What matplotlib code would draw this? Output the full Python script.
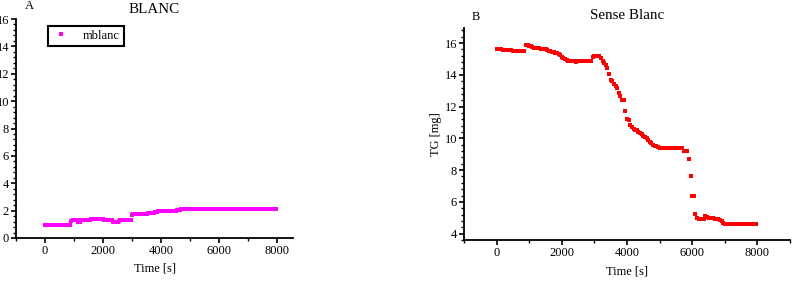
import numpy as np
import matplotlib.pyplot as plt
from matplotlib.ticker import MultipleLocator, AutoMinorLocator

plt.rcParams["font.family"] = ["Liberation Serif", "DejaVu Serif"]
plt.rcParams["font.size"] = 9

# -----------------------------
# Data (one sample every 50 s)
# -----------------------------
TIME_S = np.arange(0, 8000, 50)

MBLANC = [
    0.95, 0.95, 0.95, 0.95, 0.95, 0.95, 0.95, 0.95, 0.95, 0.95,
    0.95, 0.95, 0.95, 0.95, 0.95, 0.95, 0.95, 0.95, 1.25, 1.30,
    1.30, 1.30, 1.30, 1.20, 1.20, 1.28, 1.30, 1.30, 1.30, 1.30,
    1.30, 1.32, 1.38, 1.38, 1.40, 1.40, 1.40, 1.40, 1.40, 1.40,
    1.38, 1.30, 1.30, 1.30, 1.30, 1.30, 1.28, 1.20, 1.18, 1.18,
    1.20, 1.25, 1.28, 1.30, 1.30, 1.30, 1.30, 1.30, 1.30, 1.35,
    1.70, 1.72, 1.72, 1.72, 1.72, 1.72, 1.72, 1.72, 1.72, 1.75,
    1.78, 1.82, 1.85, 1.85, 1.85, 1.85, 1.88, 1.92, 1.95, 1.95,
    1.95, 1.95, 1.95, 1.95, 1.95, 1.95, 1.95, 1.95, 1.95, 1.95,
    2.00, 2.05, 2.07, 2.07, 2.12, 2.15, 2.15, 2.15, 2.15, 2.15,
    2.15, 2.15, 2.15, 2.15, 2.15, 2.15, 2.15, 2.15, 2.15, 2.15,
    2.15, 2.15, 2.15, 2.15, 2.15, 2.15, 2.15, 2.15, 2.15, 2.15,
    2.15, 2.15, 2.15, 2.15, 2.15, 2.15, 2.15, 2.15, 2.15, 2.15,
    2.15, 2.15, 2.15, 2.15, 2.15, 2.15, 2.15, 2.15, 2.15, 2.15,
    2.15, 2.15, 2.15, 2.15, 2.15, 2.15, 2.15, 2.15, 2.15, 2.15,
    2.15, 2.15, 2.15, 2.15, 2.15, 2.15, 2.15, 2.15, 2.15, 2.15,
]

SENSE_BLANC = [
    15.65, 15.65, 15.65, 15.60, 15.58, 15.58, 15.58, 15.55, 15.55, 15.55,
    15.50, 15.50, 15.48, 15.48, 15.48, 15.48, 15.48, 15.50, 15.90, 15.85,
    15.80, 15.80, 15.75, 15.70, 15.70, 15.68, 15.70, 15.65, 15.62, 15.60,
    15.60, 15.55, 15.50, 15.48, 15.45, 15.42, 15.38, 15.35, 15.30, 15.25,
    15.15, 15.05, 15.00, 14.95, 14.90, 14.88, 14.85, 14.85, 14.85, 14.82,
    14.85, 14.85, 14.85, 14.85, 14.90, 14.85, 14.85, 14.85, 14.88, 15.10,
    15.20, 15.20, 15.20, 15.18, 15.05, 14.90, 14.75, 14.60, 14.40, 14.05,
    13.70, 13.60, 13.45, 13.30, 13.15, 12.85, 12.65, 12.40, 12.40, 11.75,
    11.20, 11.15, 10.85, 10.70, 10.60, 10.55, 10.50, 10.40, 10.35, 10.25,
    10.15, 10.10, 10.00, 9.90, 9.75, 9.70, 9.60, 9.55, 9.50, 9.45,
    9.42, 9.42, 9.40, 9.40, 9.40, 9.40, 9.40, 9.40, 9.40, 9.40,
    9.40, 9.40, 9.40, 9.40, 9.40, 9.20, 9.20, 9.20, 8.70, 7.60,
    6.40, 6.35, 5.25, 5.00, 4.95, 4.90, 4.90, 4.95, 5.10, 5.05,
    5.00, 5.00, 5.00, 5.00, 4.95, 4.95, 4.95, 4.85, 4.80, 4.70,
    4.60, 4.60, 4.60, 4.60, 4.60, 4.60, 4.60, 4.60, 4.60, 4.60,
    4.60, 4.60, 4.60, 4.60, 4.60, 4.60, 4.60, 4.60, 4.60, 4.60,
]

W, H = 794, 282


def style_axis(ax):
    for side in ("top", "right"):
        ax.spines[side].set_visible(False)
    for side in ("left", "bottom"):
        ax.spines[side].set_linewidth(1.3)
    ax.xaxis.set_major_locator(MultipleLocator(2000))
    ax.xaxis.set_minor_locator(MultipleLocator(1000))
    ax.yaxis.set_major_locator(MultipleLocator(2))
    ax.yaxis.set_minor_locator(AutoMinorLocator(5))
    ax.tick_params(which="major", direction="out", length=3.5, width=1.2, pad=1.5)
    ax.tick_params(which="minor", direction="out", length=2.2, width=1.0)


def main():
    fig = plt.figure(figsize=(W / 100, H / 100), dpi=100)

    # left panel: BLANC
    ax1 = fig.add_axes([16 / W, 1 - 238 / H, (293 - 16) / W, (238 - 19) / H])
    ax1.plot(TIME_S, MBLANC, "s", color="#ff00ff", markersize=2.9,
             markeredgewidth=0, label="mblanc")
    ax1.set_xlim(-1000, 8550)
    ax1.set_ylim(0, 16)
    style_axis(ax1)
    ax1.set_xlabel("Time [s]", labelpad=4)
    ax1.set_title("BLANC", pad=4)
    leg = ax1.legend(loc="upper left", bbox_to_anchor=(0.116, 0.968),
                     borderaxespad=0, fancybox=False, framealpha=1,
                     edgecolor="black", handlelength=1.5, markerscale=1.0,
                     borderpad=0.3, handletextpad=1.0)
    leg.get_frame().set_linewidth(1.5)

    # right panel: Sense Blanc
    ax2 = fig.add_axes([464 / W, 1 - 240 / H, (790 - 464) / W, (240 - 28) / H])
    ax2.plot(TIME_S, SENSE_BLANC, "s", color="#ff0000", markersize=2.9,
             markeredgewidth=0)
    ax2.set_xlim(-1000, 9000)
    ax2.set_ylim(3.6, 16.95)
    style_axis(ax2)
    ax2.set_yticks([4, 6, 8, 10, 12, 14, 16])
    ax2.set_xlabel("Time [s]", labelpad=5)
    ax2.set_ylabel("TG [mg]", labelpad=2)
    ax2.set_title("Sense Blanc", pad=6.5)

    fig.text(29 / W, 1 - 6 / H, "A", ha="center", va="center")
    fig.text(476 / W, 1 - 17 / H, "B", ha="center", va="center")

    fig.savefig("out.png", dpi=100)
    plt.close(fig)


if __name__ == "__main__":
    main()
